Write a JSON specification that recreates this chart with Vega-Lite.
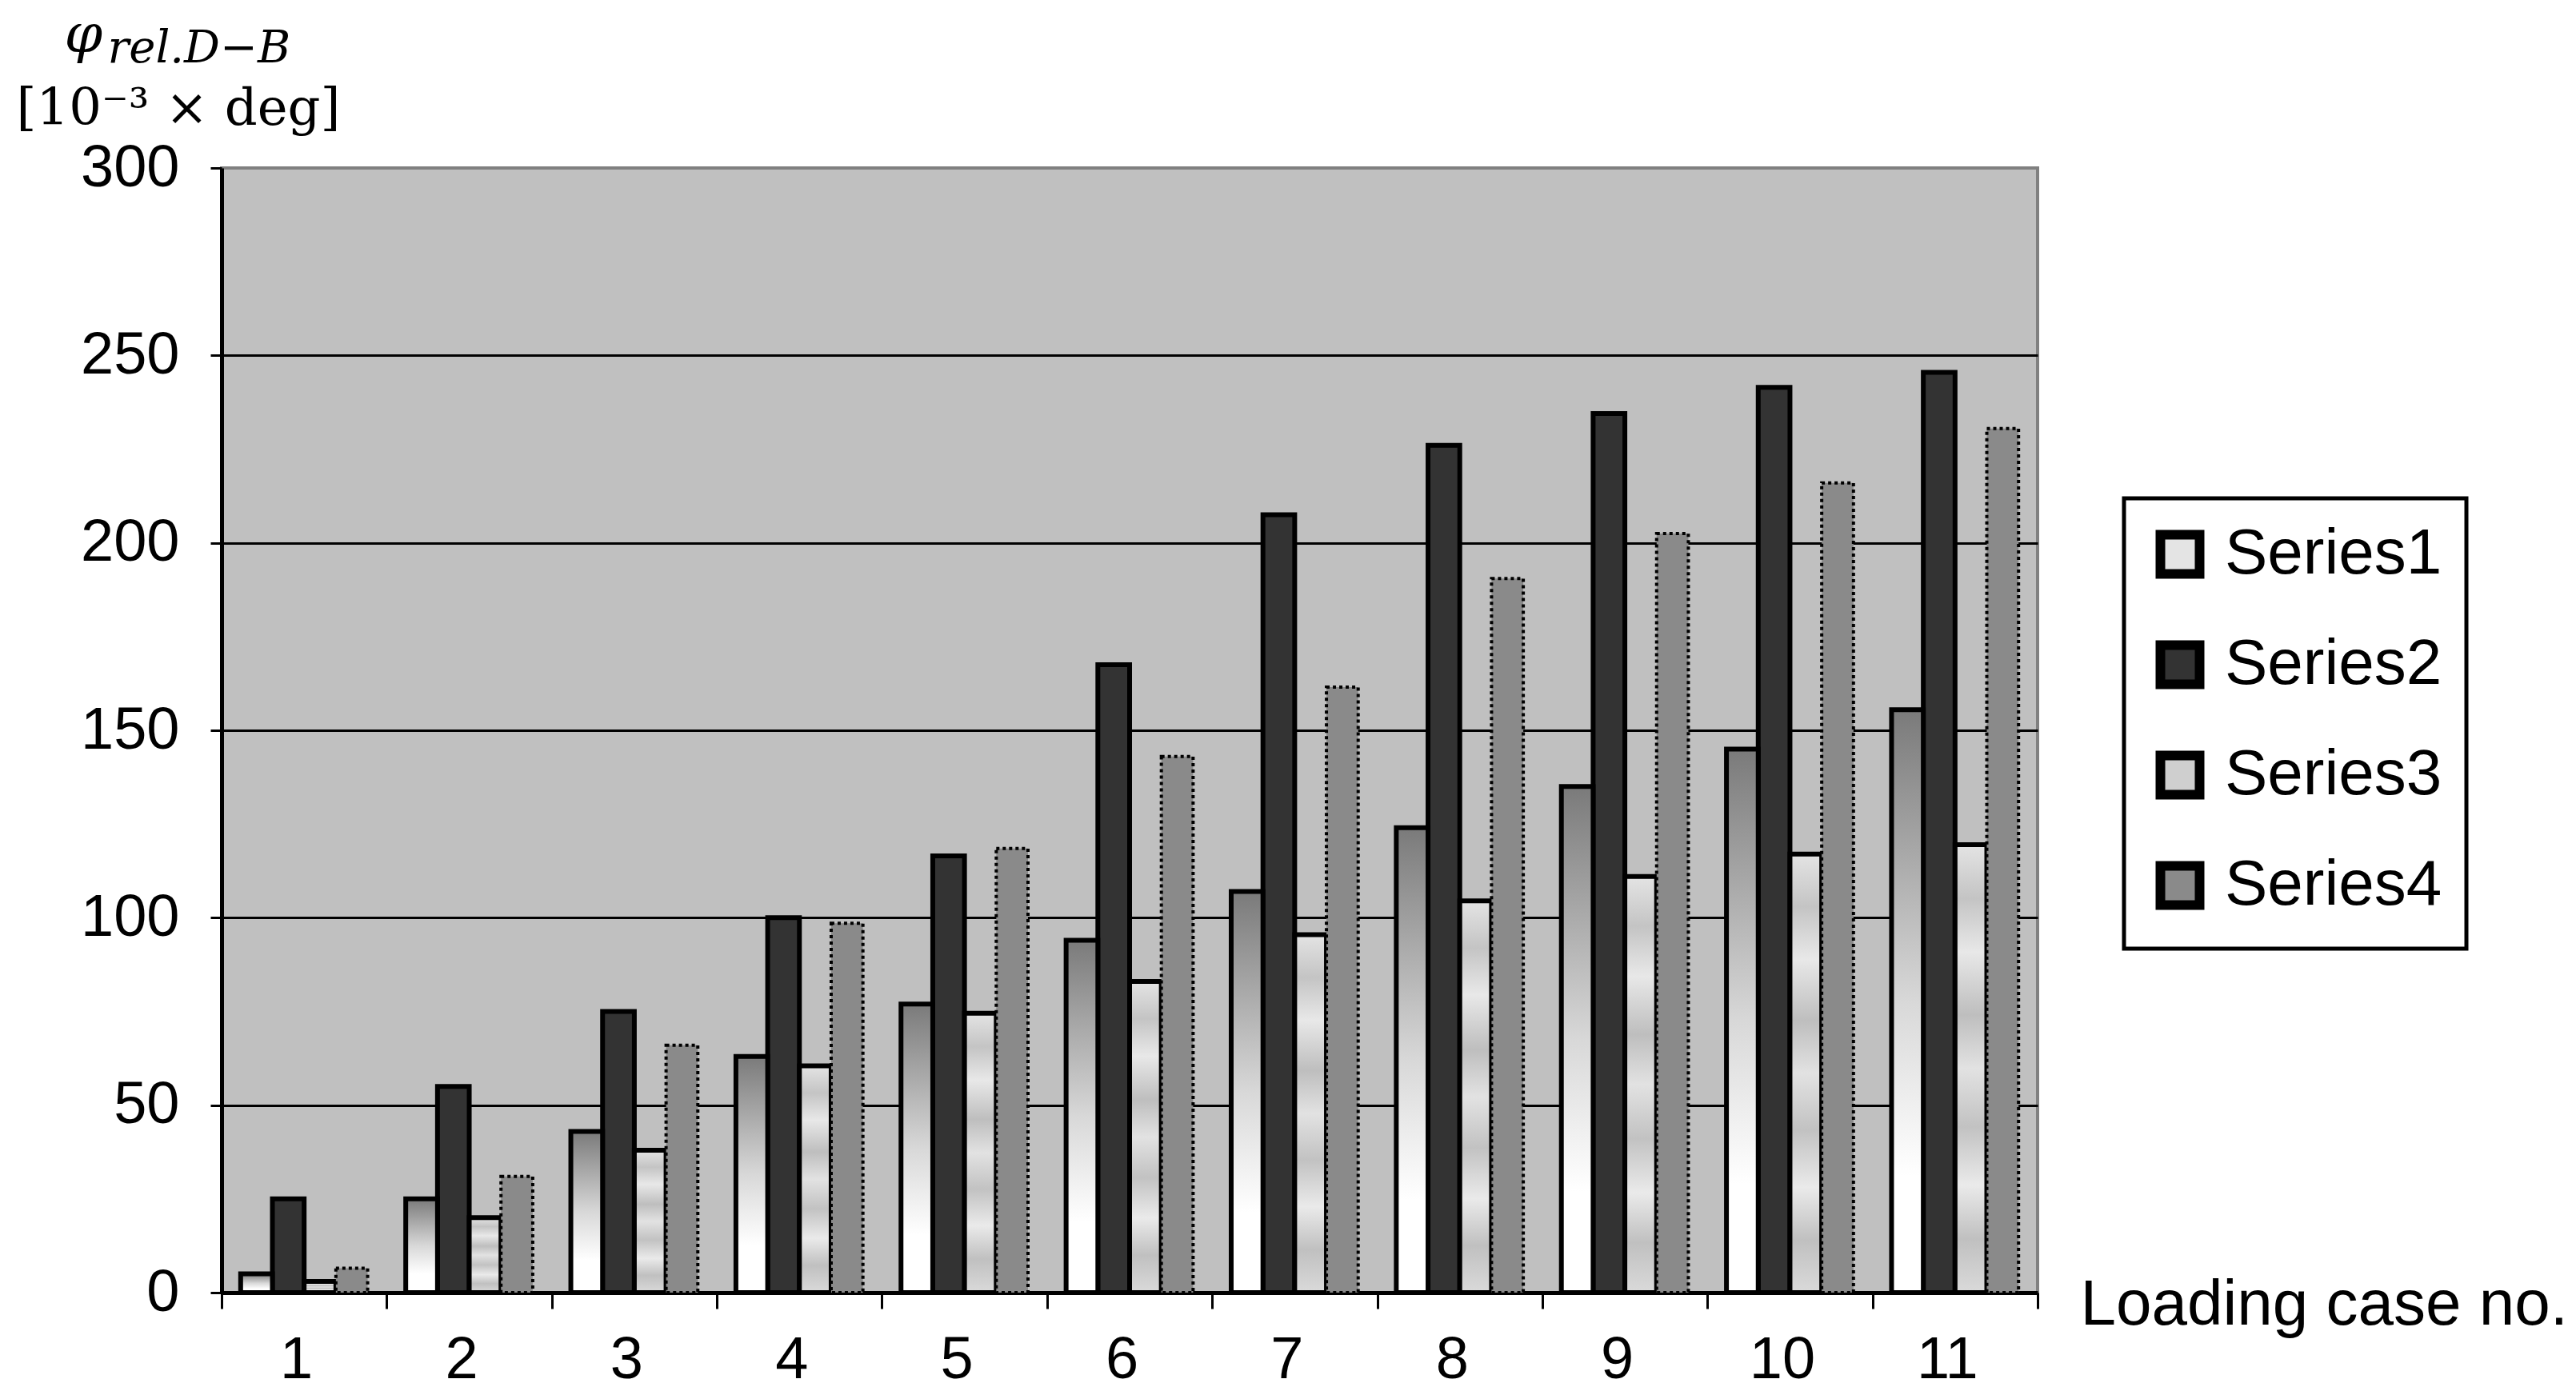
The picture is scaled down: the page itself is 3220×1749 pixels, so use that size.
{
  "$schema": "https://vega.github.io/schema/vega-lite/v6.json",
  "width": 2270,
  "height": 1406,
  "autosize": {"type": "none"},
  "padding": {"left": 277, "top": 210, "right": 673, "bottom": 133},
  "background": "white",
  "config": {
    "view": {"fill": "#c0c0c0", "stroke": "#808080", "strokeWidth": 4},
    "axis": {
      "labelFont": "Liberation Sans",
      "titleFont": "Liberation Sans",
      "labelColor": "black",
      "titleColor": "black",
      "titleFontWeight": "normal",
      "domainColor": "black",
      "tickColor": "black"
    },
    "legend": {
      "strokeColor": "black",
      "strokeWidth": 5,
      "fillColor": "white"
    }
  },
  "data": {
    "values": [
      {"case": 1, "series": "Series1", "value": 5},
      {"case": 1, "series": "Series2", "value": 25},
      {"case": 1, "series": "Series3", "value": 3},
      {"case": 1, "series": "Series4", "value": 6.5},
      {"case": 2, "series": "Series1", "value": 25},
      {"case": 2, "series": "Series2", "value": 55},
      {"case": 2, "series": "Series3", "value": 20},
      {"case": 2, "series": "Series4", "value": 31},
      {"case": 3, "series": "Series1", "value": 43},
      {"case": 3, "series": "Series2", "value": 75},
      {"case": 3, "series": "Series3", "value": 38},
      {"case": 3, "series": "Series4", "value": 66},
      {"case": 4, "series": "Series1", "value": 63},
      {"case": 4, "series": "Series2", "value": 100},
      {"case": 4, "series": "Series3", "value": 60.5},
      {"case": 4, "series": "Series4", "value": 98.5},
      {"case": 5, "series": "Series1", "value": 77},
      {"case": 5, "series": "Series2", "value": 116.5},
      {"case": 5, "series": "Series3", "value": 74.5},
      {"case": 5, "series": "Series4", "value": 118.5},
      {"case": 6, "series": "Series1", "value": 94},
      {"case": 6, "series": "Series2", "value": 167.5},
      {"case": 6, "series": "Series3", "value": 83},
      {"case": 6, "series": "Series4", "value": 143},
      {"case": 7, "series": "Series1", "value": 107},
      {"case": 7, "series": "Series2", "value": 207.5},
      {"case": 7, "series": "Series3", "value": 95.5},
      {"case": 7, "series": "Series4", "value": 161.5},
      {"case": 8, "series": "Series1", "value": 124},
      {"case": 8, "series": "Series2", "value": 226},
      {"case": 8, "series": "Series3", "value": 104.5},
      {"case": 8, "series": "Series4", "value": 190.5},
      {"case": 9, "series": "Series1", "value": 135},
      {"case": 9, "series": "Series2", "value": 234.5},
      {"case": 9, "series": "Series3", "value": 111},
      {"case": 9, "series": "Series4", "value": 202.5},
      {"case": 10, "series": "Series1", "value": 145},
      {"case": 10, "series": "Series2", "value": 241.5},
      {"case": 10, "series": "Series3", "value": 117},
      {"case": 10, "series": "Series4", "value": 216},
      {"case": 11, "series": "Series1", "value": 155.5},
      {"case": 11, "series": "Series2", "value": 245.5},
      {"case": 11, "series": "Series3", "value": 119.5},
      {"case": 11, "series": "Series4", "value": 230.5}
    ]
  },
  "layer": [
    {
      "transform": [{"filter": "datum.series === 'Series2'"}],
      "mark": {"type": "bar", "stroke": "black", "strokeWidth": 6},
      "encoding": {
        "x": {
          "field": "case", "type": "ordinal",
          "scale": {"paddingInner": 0, "paddingOuter": 0},
          "axis": {
            "orient": "bottom",
            "labelAngle": 0,
            "labelFontSize": 74,
            "labelPadding": 28,
            "labelOffset": -10,
            "tickBand": "extent",
            "tickSize": 20,
            "tickWidth": 3,
            "domainWidth": 5,
            "grid": false,
            "title": "Loading case no.",
            "titleFontSize": 80,
            "titleAlign": "left",
            "titleBaseline": "alphabetic",
            "titleAngle": 0,
            "titleX": 2323,
            "titleY": 39
          }
        },
        "xOffset": {
          "field": "series", "type": "nominal",
          "scale": {"domain": ["Series1", "Series2", "Series3", "Series4"], "paddingInner": 0, "paddingOuter": 0.6}
        },
        "y": {
          "field": "value", "type": "quantitative",
          "scale": {"domain": [0, 300], "nice": false},
          "axis": {
            "orient": "left",
            "values": [0, 50, 100, 150, 200, 250, 300],
            "grid": false,
            "labelFontSize": 74,
            "labelPadding": 39,
            "tickSize": 14,
            "tickWidth": 3,
            "domainWidth": 5,
            "title": "[10⁻³ × deg]",
            "titleFont": "DejaVu Serif",
            "titleFontSize": 64,
            "titleAngle": 0,
            "titleAlign": "left",
            "titleBaseline": "alphabetic",
            "titleX": -257,
            "titleY": -55
          }
        },
        "color": {
          "field": "series", "type": "nominal",
          "scale": {
            "domain": ["Series1", "Series2", "Series3", "Series4"],
            "range": ["#e4e4e4", "#333333", "#cfcfcf", "#8a8a8a"]
          },
          "legend": {
            "orient": "none",
            "legendX": 2378,
            "legendY": 413,
            "title": null,
            "padding": 30,
            "symbolType": "square",
            "symbolSize": 2400,
            "symbolStrokeWidth": 12,
            "symbolStrokeColor": "black",
            "labelFont": "Liberation Sans",
            "labelFontSize": 80,
            "labelColor": "black",
            "labelOffset": 16,
            "labelLimit": 600,
            "rowPadding": 40
          }
        }
      }
    },
    {
      "transform": [{"filter": "datum.series === 'Series1'"}],
      "mark": {
        "type": "bar",
        "stroke": "black",
        "strokeWidth": 6,
        "fill": {
          "gradient": "linear",
          "x1": 0, "y1": 0, "x2": 0, "y2": 1,
          "stops": [
            {"offset": 0, "color": "#7a7a7a"},
            {"offset": 0.5, "color": "#d8d8d8"},
            {"offset": 0.8, "color": "#ffffff"},
            {"offset": 1, "color": "#ffffff"}
          ]
        }
      },
      "encoding": {
        "x": {"field": "case", "type": "ordinal", "axis": null},
        "xOffset": {"field": "series", "type": "nominal"},
        "y": {"field": "value", "type": "quantitative", "axis": null}
      }
    },
    {
      "transform": [{"filter": "datum.series === 'Series3'"}],
      "mark": {
        "type": "bar",
        "stroke": "black",
        "strokeWidth": 6,
        "fill": {
          "gradient": "linear",
          "x1": 0, "y1": 0, "x2": 0, "y2": 1,
          "stops": [
            {"offset": 0, "color": "#e4e4e4"},
            {"offset": 0.12, "color": "#c4c4c4"},
            {"offset": 0.24, "color": "#e8e8e8"},
            {"offset": 0.38, "color": "#bebebe"},
            {"offset": 0.5, "color": "#e2e2e2"},
            {"offset": 0.63, "color": "#c2c2c2"},
            {"offset": 0.76, "color": "#eaeaea"},
            {"offset": 0.88, "color": "#c0c0c0"},
            {"offset": 1, "color": "#dadada"}
          ]
        }
      },
      "encoding": {
        "x": {"field": "case", "type": "ordinal", "axis": null},
        "xOffset": {"field": "series", "type": "nominal"},
        "y": {"field": "value", "type": "quantitative", "axis": null}
      }
    },
    {
      "transform": [{"filter": "datum.series === 'Series4'"}],
      "mark": {
        "type": "bar",
        "fill": "#8a8a8a",
        "stroke": "black",
        "strokeWidth": 4,
        "strokeDash": [4, 4]
      },
      "encoding": {
        "x": {
          "field": "case", "type": "ordinal",
          "axis": {
            "orient": "top",
            "domain": false,
            "ticks": false,
            "labels": false,
            "grid": false,
            "title": "rel.D−B",
            "titleFont": "DejaVu Serif",
            "titleFontStyle": "italic",
            "titleFontWeight": "normal",
            "titleFontSize": 56,
            "titleAngle": 0,
            "titleAlign": "left",
            "titleBaseline": "alphabetic",
            "titleX": -143,
            "titleY": -133
          }
        },
        "xOffset": {"field": "series", "type": "nominal"},
        "y": {
          "field": "value", "type": "quantitative",
          "axis": {
            "orient": "right",
            "values": [50, 100, 150, 200, 250],
            "domain": false,
            "ticks": false,
            "labels": false,
            "grid": true,
            "gridColor": "black",
            "gridWidth": 3,
            "gridOpacity": 1,
            "zindex": 0,
            "title": "φ",
            "titleFont": "DejaVu Serif",
            "titleFontStyle": "italic",
            "titleFontWeight": "normal",
            "titleFontSize": 68,
            "titleAngle": 0,
            "titleAlign": "left",
            "titleBaseline": "alphabetic",
            "titleX": -2467,
            "titleY": -146
          }
        }
      }
    }
  ],
  "resolve": {"axis": {"x": "independent", "y": "independent"}}
}
